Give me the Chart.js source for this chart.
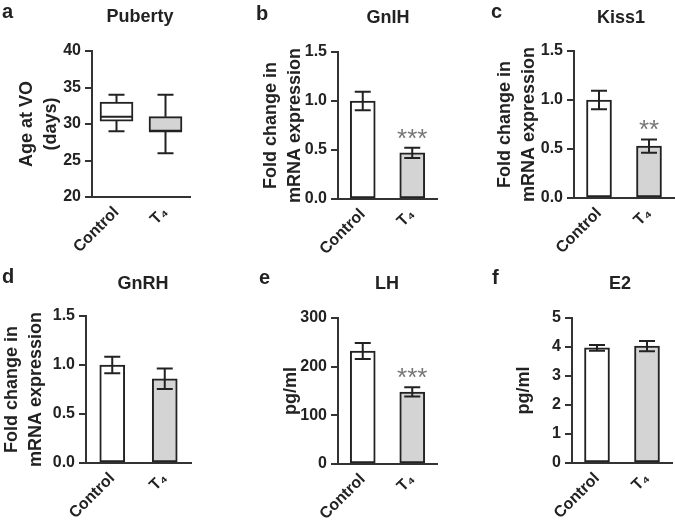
<!DOCTYPE html>
<html>
<head>
<meta charset="utf-8">
<script src="https://cdn.jsdelivr.net/npm/chart.js@4"></script>
<style>
  body { margin: 0; background: #fff; }
  #fig { position: relative; width: 675px; height: 522px; overflow: hidden; font-family: "Liberation Sans", Arial, sans-serif; color: #222; }
  .cell { position: absolute; width: 225px; height: 261px; }
  .letter { position: absolute; font-size: 20px; line-height: 20px; font-weight: bold; }
  .title { position: absolute; width: 120px; text-align: center; font-size: 18px; line-height: 18px; font-weight: bold; }
</style>
</head>
<body>
<div id="fig">
  <div class="cell" style="left:0;top:0"><canvas id="pubertyChart" width="225" height="261"></canvas></div>
  <div class="cell" style="left:225px;top:0"><canvas id="gnihChart" width="225" height="261"></canvas></div>
  <div class="cell" style="left:450px;top:0"><canvas id="kiss1Chart" width="225" height="261"></canvas></div>
  <div class="cell" style="left:0;top:261px"><canvas id="gnrhChart" width="225" height="261"></canvas></div>
  <div class="cell" style="left:225px;top:261px"><canvas id="lhChart" width="225" height="261"></canvas></div>
  <div class="cell" style="left:450px;top:261px"><canvas id="e2Chart" width="225" height="261"></canvas></div>

  <div class="letter" style="left:2px;top:1px">a</div>
  <div class="letter" style="left:256px;top:3px">b</div>
  <div class="letter" style="left:491px;top:1px">c</div>
  <div class="letter" style="left:2px;top:266px">d</div>
  <div class="letter" style="left:259px;top:267px">e</div>
  <div class="letter" style="left:492px;top:267px">f</div>

  <div class="title" style="left:80px;top:7px">Puberty</div>
  <div class="title" style="left:328px;top:8px">GnIH</div>
  <div class="title" style="left:561px;top:8px">Kiss1</div>
  <div class="title" style="left:83px;top:274px">GnRH</div>
  <div class="title" style="left:327px;top:274px">LH</div>
  <div class="title" style="left:560px;top:274px">E2</div>
</div>

<script>
// groups
const groups = ["Control", "T\u2084"];
const fills = ["#ffffff", "#d4d4d4"];

// a: age at vaginal opening (box plot)
const pubertyMin = [29, 26];
const pubertyQ1 = [30.4, 29];
const pubertyMedian = [31, 29];
const pubertyQ3 = [33, 31];
const pubertyMax = [34, 34];

// b-f: mean and SEM
const gnihMean = [1.0, 0.47];
const gnihSem = [0.095, 0.052];
const gnihStars = ["", "***"];

const kiss1Mean = [1.0, 0.53];
const kiss1Sem = [0.095, 0.068];
const kiss1Stars = ["", "**"];

const gnrhMean = [1.0, 0.86];
const gnrhSem = [0.085, 0.105];

const lhMean = [232, 148];
const lhSem = [16.5, 9.5];
const lhStars = ["", "***"];

const e2Mean = [3.97, 4.03];
const e2Sem = [0.1, 0.18];

const FONT = "'Liberation Sans', Arial, sans-serif";
const INK = "#222";

// error bars, box whiskers and significance stars
const errorBarPlugin = {
    id: "errorBars",
    afterDatasetsDraw(chart) {
        const ctx = chart.ctx;
        const y = chart.scales.y;
        chart.data.datasets.forEach((ds, di) => {
            const meta = chart.getDatasetMeta(di);
            meta.data.forEach((bar, i) => {
                ctx.save();
                ctx.strokeStyle = INK;
                ctx.lineWidth = 2;
                let top;
                if (ds.sem) {
                    const hi = y.getPixelForValue(ds.data[i] + ds.sem[i]);
                    const lo = y.getPixelForValue(ds.data[i] - ds.sem[i]);
                    ctx.beginPath();
                    ctx.moveTo(bar.x, hi); ctx.lineTo(bar.x, lo);
                    ctx.moveTo(bar.x - 8, hi); ctx.lineTo(bar.x + 8, hi);
                    ctx.moveTo(bar.x - 8, lo); ctx.lineTo(bar.x + 8, lo);
                    ctx.stroke();
                    top = hi;
                }
                if (ds.whiskerMax) {
                    const q1 = y.getPixelForValue(ds.data[i][0]);
                    const q3 = y.getPixelForValue(ds.data[i][1]);
                    const mx = y.getPixelForValue(ds.whiskerMax[i]);
                    const mn = y.getPixelForValue(ds.whiskerMin[i]);
                    const md = y.getPixelForValue(ds.median[i]);
                    const half = bar.width / 2;
                    ctx.beginPath();
                    ctx.moveTo(bar.x, q3); ctx.lineTo(bar.x, mx);
                    ctx.moveTo(bar.x - 8, mx); ctx.lineTo(bar.x + 8, mx);
                    ctx.moveTo(bar.x, q1); ctx.lineTo(bar.x, mn);
                    ctx.moveTo(bar.x - 8, mn); ctx.lineTo(bar.x + 8, mn);
                    ctx.moveTo(bar.x - half, md); ctx.lineTo(bar.x + half, md);
                    ctx.stroke();
                }
                if (ds.stars && ds.stars[i]) {
                    ctx.fillStyle = "#777";
                    ctx.font = "26px " + FONT;
                    ctx.textAlign = "center";
                    ctx.textBaseline = "alphabetic";
                    ctx.fillText(ds.stars[i], bar.x, top - 1);
                }
                ctx.restore();
            });
        });
    }
};

function makePanel(id, p) {
    const W = 225, H = 261;
    const ds = {
        data: p.data,
        backgroundColor: fills,
        borderColor: INK,
        borderWidth: 2,
        borderSkipped: false,
        barThickness: p.barThickness || 25
    };
    Object.assign(ds, p.extra);

    return new Chart(document.getElementById(id).getContext("2d"), {
        type: "bar",
        data: { labels: groups, datasets: [ds] },
        options: {
            responsive: false,
            animation: false,
            devicePixelRatio: 1,
            layout: { padding: { left: 0, top: p.top, right: W - p.right, bottom: 0 } },
            plugins: { legend: { display: false }, tooltip: { enabled: false } },
            scales: {
                x: {
                    grid: { display: false, drawTicks: false },
                    border: { display: true, color: "#333", width: 2 },
                    ticks: {
                        color: INK, autoSkip: false, maxRotation: 45, minRotation: 45, padding: 6,
                        font: { family: FONT, size: 16, weight: "bold" }
                    },
                    afterFit: s => { s.height = H - p.bottom; }
                },
                y: {
                    min: p.min, max: p.max,
                    grid: { drawOnChartArea: false, drawTicks: true, tickLength: 7, color: "#333", lineWidth: 2 },
                    border: { display: true, color: "#333", width: 2 },
                    ticks: {
                        stepSize: p.step, color: INK, padding: 4,
                        font: { family: FONT, size: 16, weight: "bold" },
                        callback: v => p.decimals ? v.toFixed(p.decimals) : v
                    },
                    title: {
                        display: true, text: p.yTitle, color: INK,
                        font: { family: FONT, size: 18, weight: "bold", lineHeight: 1.28 },
                        padding: { top: p.titleOffset, bottom: 0 }
                    },
                    afterFit: s => { s.width = p.left; }
                }
            }
        },
        plugins: [errorBarPlugin]
    });
}

const foldTitle = ["Fold change in", "mRNA expression"];

document.addEventListener("DOMContentLoaded", function () {
    makePanel("pubertyChart", {
        data: pubertyQ1.map((q, i) => [q, pubertyQ3[i]]),
        extra: { whiskerMin: pubertyMin, whiskerMax: pubertyMax, median: pubertyMedian },
        barThickness: 33,
        min: 20, max: 40, step: 5,
        yTitle: ["Age at VO", "(days)"], titleOffset: 16,
        left: 92, top: 51, right: 190, bottom: 197
    });
    makePanel("gnihChart", {
        data: gnihMean, extra: { sem: gnihSem, stars: gnihStars },
        min: 0, max: 1.5, step: 0.5, decimals: 1,
        yTitle: foldTitle, titleOffset: 35,
        left: 113, top: 52, right: 212, bottom: 199
    });
    makePanel("kiss1Chart", {
        data: kiss1Mean, extra: { sem: kiss1Sem, stars: kiss1Stars },
        min: 0, max: 1.5, step: 0.5, decimals: 1,
        yTitle: foldTitle, titleOffset: 44,
        left: 124, top: 51, right: 224, bottom: 198
    });
    makePanel("gnrhChart", {
        data: gnrhMean, extra: { sem: gnrhSem },
        min: 0, max: 1.5, step: 0.5, decimals: 1,
        yTitle: foldTitle, titleOffset: 1,
        left: 86, top: 55, right: 191, bottom: 202
    });
    makePanel("lhChart", {
        data: lhMean, extra: { sem: lhSem, stars: lhStars },
        min: 0, max: 300, step: 100,
        yTitle: "pg/ml", titleOffset: 55,
        left: 113, top: 57, right: 212, bottom: 203
    });
    makePanel("e2Chart", {
        data: e2Mean, extra: { sem: e2Sem },
        min: 0, max: 5, step: 1,
        yTitle: "pg/ml", titleOffset: 63,
        left: 122, top: 57, right: 222, bottom: 202
    });
});
</script>
</body>
</html>
